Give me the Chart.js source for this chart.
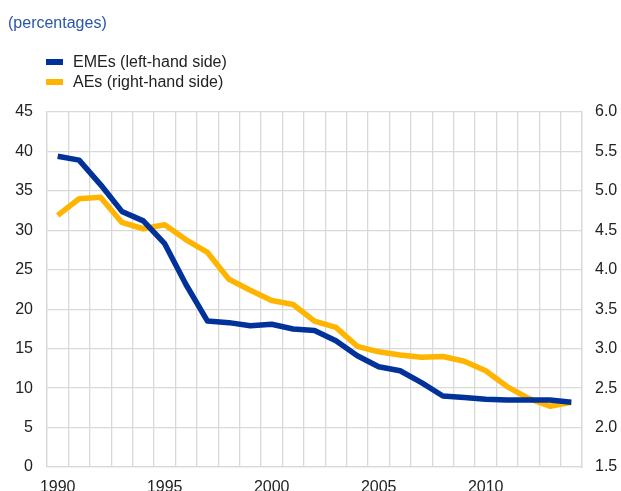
<!DOCTYPE html>
<html>
<head>
<meta charset="utf-8">
<script src="https://cdn.jsdelivr.net/npm/chart.js@4/dist/chart.umd.min.js"></script>
<style>
  html, body { margin: 0; padding: 0; background: #fff; }
  #wrap { position: relative; width: 621px; height: 491px; overflow: hidden; font-family: "Liberation Sans", Arial, sans-serif; }
  #title { position: absolute; left: 8px; top: 14px; font-size: 16px; color: #2a55a8; white-space: nowrap; }
  #legend { position: absolute; left: 46px; top: 52px; font-size: 16px; color: #222; }
  .item { display: flex; align-items: center; height: 20px; white-space: nowrap; }
  .sw { width: 17px; height: 6px; margin-right: 10px; }
  canvas { position: absolute; left: 0; top: 0; }
</style>
</head>
<body>
<div id="wrap">
  <canvas id="c" width="621" height="491"></canvas>
  <div id="title">(percentages)</div>
  <div id="legend"></div>
</div>
<script>
const years = ["1990","1991","1992","1993","1994","1995","1996","1997","1998","1999","2000","2001","2002","2003","2004","2005","2006","2007","2008","2009","2010","2011","2012","2013","2014"];
const emes = [39.4,38.9,35.8,32.4,31.2,28.3,23.1,18.5,18.3,17.9,18.1,17.5,17.3,16.0,14.1,12.7,12.2,10.7,9.0,8.8,8.6,8.5,8.5,8.5,8.2];
const aes = [4.69,4.90,4.92,4.60,4.52,4.57,4.38,4.22,3.88,3.74,3.61,3.56,3.35,3.27,3.03,2.96,2.92,2.89,2.90,2.84,2.72,2.52,2.37,2.27,2.32];
const seriesLabels = ["EMEs (left-hand side)", "AEs (right-hand side)"];
const seriesColors = ["#003299", "#ffb400"];
const leftTicks = { min: 0, max: 45, step: 5 };
const rightTicks = { min: 1.5, max: 6.0, step: 0.5 };

const gridColor = "#d9d9d9";
const font = { family: "'Liberation Sans', Arial, sans-serif", size: 16 };

const leg = document.getElementById('legend');
seriesLabels.forEach((l, i) => {
  const d = document.createElement('div');
  d.className = 'item';
  d.innerHTML = '<span class="sw" style="background:' + seriesColors[i] + '"></span><span>' + l + '</span>';
  leg.appendChild(d);
});

new Chart(document.getElementById('c'), {
  type: 'line',
  data: {
    labels: years,
    datasets: [
      { label: seriesLabels[0], data: emes, yAxisID: 'y', borderColor: seriesColors[0], backgroundColor: seriesColors[0], borderWidth: 5.5, pointRadius: 0, tension: 0, borderJoinStyle: 'round', borderCapStyle: 'butt' },
      { label: seriesLabels[1], data: aes, yAxisID: 'y1', borderColor: seriesColors[1], backgroundColor: seriesColors[1], borderWidth: 5.5, pointRadius: 0, tension: 0, borderJoinStyle: 'round', borderCapStyle: 'butt' }
    ]
  },
  options: {
    responsive: false,
    animation: false,
    layout: { padding: { top: 112, left: 0, right: 0, bottom: 0 } },
    plugins: { legend: { display: false }, tooltip: { enabled: false }, title: { display: false } },
    scales: {
      x: {
        offset: true,
        grid: { color: gridColor, lineWidth: 1.3, offset: true, drawTicks: false },
        border: { color: gridColor, width: 1.3 },
        ticks: {
          autoSkip: false, maxRotation: 0, minRotation: 0, padding: 11,
          color: '#222', font: font,
          callback: function(v, i) { const y = years[i]; return (parseInt(y) % 5 === 0) ? y : ''; }
        },
        afterFit: function(s) { s.height = 24; }
      },
      y: {
        position: 'left',
        min: leftTicks.min, max: leftTicks.max,
        grid: { color: gridColor, lineWidth: 1.3, drawTicks: false },
        border: { color: gridColor, width: 1.3 },
        ticks: { stepSize: leftTicks.step, padding: 14, color: '#222', font: font },
        afterFit: function(s) { s.width = 47; }
      },
      y1: {
        position: 'right',
        min: rightTicks.min, max: rightTicks.max,
        grid: { drawOnChartArea: false, drawTicks: false },
        border: { color: gridColor, width: 1.3 },
        ticks: { stepSize: rightTicks.step, padding: 13, color: '#222', font: font, callback: v => Number(v).toFixed(1) },
        afterFit: function(s) { s.width = 39; }
      }
    }
  }
});
</script>
</body>
</html>
